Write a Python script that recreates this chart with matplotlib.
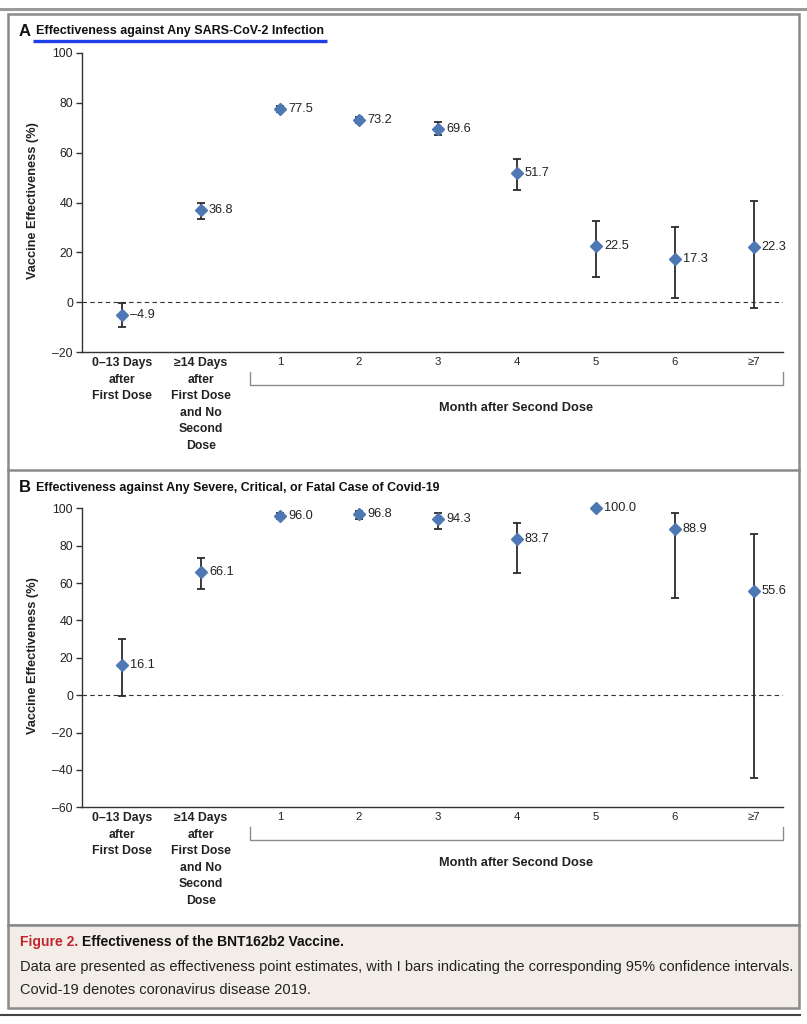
import numpy as np
import matplotlib
matplotlib.use("Agg")
import matplotlib.pyplot as plt
from matplotlib.lines import Line2D
from matplotlib.patches import Rectangle

# ---------------- data ----------------
categories = ["0\u201313 Days\nafter\nFirst Dose",
              "\u226514 Days\nafter\nFirst Dose\nand No\nSecond\nDose",
              "1", "2", "3", "4", "5", "6", "\u22657"]
bold_cats = [True, True, False, False, False, False, False, False, False]

ve_infection = [-4.9, 36.8, 77.5, 73.2, 69.6, 51.7, 22.5, 17.3, 22.3]
inf_lo = [-9.8, 33.4, 76.4, 71.9, 66.9, 45.0, 10.3, 1.9, -2.3]
inf_hi = [-0.1, 40.0, 78.6, 74.4, 72.1, 57.5, 32.6, 30.2, 40.6]

ve_severe = [16.1, 66.1, 96.0, 96.8, 94.3, 83.7, 100.0, 88.9, 55.6]
sev_lo = [-0.7, 56.8, 94.3, 94.1, 89.1, 65.6, np.nan, 52.2, -44.1]
sev_hi = [30.0, 73.6, 97.4, 98.3, 97.3, 92.3, np.nan, 97.3, 86.4]

title_a = "Effectiveness against Any SARS-CoV-2 Infection"
title_b = "Effectiveness against Any Severe, Critical, or Fatal Case of Covid-19"
ylabel = "Vaccine Effectiveness (%)"
group_label = "Month after Second Dose"
cap_head_red = "Figure 2."
cap_head = "Effectiveness of the BNT162b2 Vaccine."
cap_line1 = ("Data are presented as effectiveness point estimates, with I bars "
             "indicating the corresponding 95% confidence intervals.")
cap_line2 = "Covid-19 denotes coronavirus disease 2019."

# ---------------- style ----------------
W, H = 807, 1024
SANS = ["Liberation Sans", "DejaVu Sans"]
NARROW = ["Liberation Sans Narrow", "Liberation Sans", "DejaVu Sans"]
plt.rcParams["font.family"] = SANS
MARKER_C = "#4d78b3"
DARK = "#222222"
AX_C = "#333333"

fig = plt.figure(figsize=(W / 100, H / 100), dpi=100)
fig.patch.set_facecolor("white")


def fx(x):
    return x / W


def fy(y):
    return 1 - y / H


def fig_line(xs, ys, **kw):
    fig.add_artist(Line2D([fx(v) for v in xs], [fy(v) for v in ys],
                          transform=fig.transFigure, **kw))


renderer = fig.canvas.get_renderer()


def fit(t, width_px):
    w = t.get_window_extent(renderer).width
    t.set_fontsize(t.get_fontsize() * width_px / w)
    return t


# ---------------- frame ----------------
fig_line([0, 807], [9, 9], color="#9a9a9a", lw=2.2)
fig.add_artist(Rectangle((fx(7.5), fy(925)), fx(799) - fx(7.5), fy(14) - fy(925),
                         transform=fig.transFigure, fill=False,
                         edgecolor="#8a8a8a", lw=1.8))
fig_line([7.5, 799], [470, 470], color="#8a8a8a", lw=1.8)
fig.add_artist(Rectangle((fx(7.5), fy(1008)), fx(799) - fx(7.5), fy(925) - fy(1008),
                         transform=fig.transFigure, facecolor="#f3ede7",
                         edgecolor="#8a8a8a", lw=1.8))
fig_line([0, 800], [1015, 1015], color="#444444", lw=1.5)


# ---------------- panels ----------------
def panel(top_px, bottom_px, ylim, yticks, vals, lo, hi, letter, title,
          title_w, title_y, underline=False):
    left_px, right_px = 82, 783
    ax = fig.add_axes([fx(left_px), fy(bottom_px), fx(right_px) - fx(left_px),
                       fy(top_px) - fy(bottom_px)])
    x = np.arange(len(categories))
    ax.set_xlim(-0.506, 8.37)
    ax.set_ylim(*ylim)
    for s in ["top", "right"]:
        ax.spines[s].set_visible(False)
    for s in ["left", "bottom"]:
        ax.spines[s].set_color(AX_C)
        ax.spines[s].set_linewidth(1.0)
    ax.set_yticks(yticks)
    ax.set_yticklabels([("\u2013" + str(-v)) if v < 0 else str(v) for v in yticks])
    ax.tick_params(axis="y", length=4.3, width=1.0, color=AX_C, pad=2.2,
                   labelsize=8.8, labelcolor=DARK)
    ax.set_xticks(x)
    ax.set_xticklabels(categories)
    ax.tick_params(axis="x", length=0, pad=3.5, labelsize=8.8, labelcolor=DARK)
    for lab, b in zip(ax.get_xticklabels(), bold_cats):
        lab.set_linespacing(1.5)
        if b:
            lab.set_fontweight("bold")
        else:
            lab.set_fontsize(8.2)
    ax.axhline(0, color=AX_C, lw=0.8, ls=(0, (4, 3)), zorder=1)

    v = np.array(vals, dtype=float)
    l = np.array(lo, dtype=float)
    h = np.array(hi, dtype=float)
    ok = ~np.isnan(l)
    eb = ax.errorbar(x[ok], v[ok], yerr=[v[ok] - l[ok], h[ok] - v[ok]],
                     fmt="none", ecolor="#2b2b2b", elinewidth=1.3,
                     capsize=3.2, capthick=1.3, zorder=2)
    for art in eb.lines[1] + eb.lines[2]:
        art.set_clip_on(False)
    ax.plot(x, v, ls="none", marker="D", ms=6.4, color=MARKER_C,
            markeredgecolor=MARKER_C, zorder=3, clip_on=False)
    for xi, vi in zip(x, v):
        ax.annotate(f"{vi:.1f}".replace("-", "\u2013"), (xi, vi),
                    xytext=(5.8, 0), textcoords="offset points",
                    ha="left", va="center", fontsize=9.2, color=DARK)

    # bracket for months
    yb = bottom_px + 33
    fig_line([250, 250, 783, 783], [bottom_px + 20, yb, yb, bottom_px + 20],
             color="#8c8c8c", lw=1.0)
    fig.text(fx(516), fy(bottom_px + 56), group_label, ha="center",
             va="center", fontsize=9.2, fontweight="bold", color=DARK)

    # y label
    yl = fig.text(fx(33), fy((top_px + bottom_px) / 2 - 2), ylabel,
                  rotation=90, ha="center", va="center", fontsize=9,
                  fontweight="bold", color=DARK)
    fit_v = yl.get_window_extent(renderer).height
    yl.set_fontsize(yl.get_fontsize() * 158 / fit_v)

    # letter and title
    fig.text(fx(19), fy(title_y), letter, ha="left", va="center",
             fontsize=12, fontweight="bold", color="#111111")
    t = fig.text(fx(36), fy(title_y), title, ha="left", va="center",
                 fontsize=9.5, fontweight="bold", color="#111111",
                 family=(SANS if underline else NARROW))
    fit(t, title_w)
    if underline:
        fig_line([33, 327], [title_y + 10, title_y + 10], color="#1f3fe6",
                 lw=2.4, solid_capstyle="butt")
    return ax


panel(52.7, 352.3, (-20, 100), [-20, 0, 20, 40, 60, 80, 100],
      ve_infection, inf_lo, inf_hi, "A", title_a, 289, 31, underline=True)
panel(508.3, 807.3, (-60, 100), [-60, -40, -20, 0, 20, 40, 60, 80, 100],
      ve_severe, sev_lo, sev_hi, "B", title_b, 404, 488)

# ---------------- caption ----------------
c1 = fig.text(fx(20), fy(942), cap_head_red, ha="left", va="center",
              fontsize=10, fontweight="bold", color="#c0252d", family=NARROW)
c2 = fig.text(fx(20), fy(942), cap_head, ha="left", va="center",
              fontsize=10, fontweight="bold", color="#111111", family=NARROW)
fig.canvas.draw()
w1 = c1.get_window_extent(renderer).width
w2 = c2.get_window_extent(renderer).width
space = 4
scale = (325 - space) / (w1 + w2)
c1.set_fontsize(10 * scale)
c2.set_fontsize(10 * scale)
c2.set_x(fx(20 + w1 * scale + space))

l1 = fig.text(fx(20), fy(967), cap_line1, ha="left", va="center",
              fontsize=10, color="#222222", family=NARROW)
fit(l1, 773)
fig.text(fx(20), fy(990), cap_line2, ha="left", va="center",
         fontsize=l1.get_fontsize(), color="#222222", family=NARROW)

fig.savefig("out.png", dpi=100, facecolor="white")
